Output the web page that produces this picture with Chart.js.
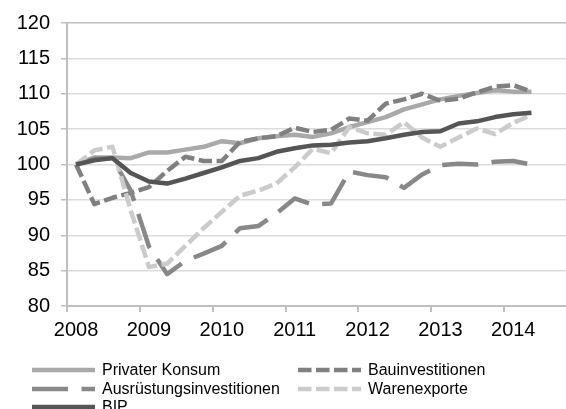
<!DOCTYPE html>
<html>
<head>
<meta charset="utf-8">
<script src="https://cdn.jsdelivr.net/npm/chart.js@4"></script>
<style>
  html, body { margin: 0; padding: 0; background: #fff; overflow: hidden; width: 566px; height: 409px; }
  #wrap { position: absolute; left: 0; top: 0; width: 577px; height: 343px; }
  #legend { position: absolute; left: 0; top: 0; width: 566px; height: 409px; font-family: Arial, "Liberation Sans", sans-serif; font-size: 16px; color: #000; }
  .item { position: absolute; height: 20px; line-height: 20px; white-space: nowrap; }
  .item svg { position: absolute; left: 0; top: 0; }
  .item span { position: absolute; top: 0; left: 70px; }
</style>
</head>
<body>
<div id="wrap"><canvas id="chart"></canvas></div>
<div id="legend"></div>
<script>
// quarterly index values, 2008 Q1 = 100
const quarters = [];
for (let y = 2008; y <= 2014; y++) {
  for (let q = 1; q <= 4; q++) quarters.push(y + ' Q' + q);
}
const yearLabels = ['2008', '2009', '2010', '2011', '2012', '2013', '2014'];

const privaterKonsum = [100, 101.0, 101.0, 100.9, 101.7, 101.7, 102.1, 102.5, 103.3, 103.0, 103.7, 104.0, 104.2, 103.9, 104.4, 105.3, 106.0, 106.7, 107.8, 108.5, 109.2, 109.7, 110.1, 110.5, 110.3, 110.3];
const bauinvestitionen = [100, 94.4, 95.3, 96.0, 96.8, 99.1, 101.1, 100.5, 100.5, 103.2, 103.7, 104.0, 105.2, 104.6, 104.9, 106.5, 106.2, 108.6, 109.2, 110.0, 109.0, 109.3, 110.2, 111.0, 111.2, 110.3];
const ausruestung = [100, 100.8, 100.9, 96.3, 88.4, 84.5, 86.4, 87.4, 88.5, 91.0, 91.3, 93.1, 95.2, 94.3, 94.5, 99.0, 98.5, 98.2, 96.7, 98.6, 99.9, 100.1, 100.0, 100.4, 100.5, 100.0];
const warenexporte = [100, 102.0, 102.5, 93.5, 85.5, 86.0, 88.5, 91.0, 93.3, 95.6, 96.3, 97.3, 99.6, 102.2, 101.6, 105.3, 104.4, 104.2, 106.0, 103.8, 102.5, 103.8, 105.1, 104.3, 105.9, 107.0];
const bip = [100, 100.6, 100.9, 98.8, 97.6, 97.3, 98.0, 98.8, 99.6, 100.5, 100.9, 101.8, 102.3, 102.7, 102.8, 103.1, 103.3, 103.7, 104.2, 104.6, 104.7, 105.8, 106.1, 106.7, 107.1, 107.3];

const seriesNames = ['Privater Konsum', 'Bauinvestitionen', 'Ausrüstungsinvestitionen', 'Warenexporte', 'BIP'];
const seriesData = [privaterKonsum, bauinvestitionen, ausruestung, warenexporte, bip];
const seriesColors = ['#a9a9a9', '#808080', '#888888', '#cbcbcb', '#555555'];
const seriesDash = [[], [13.5, 4.5], [36, 13.5], [13.5, 4.5], []];

const LINE_W = 4.5;

const datasets = seriesNames.map((name, i) => ({
  label: name,
  data: seriesData[i],
  borderColor: seriesColors[i],
  borderWidth: LINE_W,
  borderDash: seriesDash[i],
  borderCapStyle: 'butt',
  borderJoinStyle: 'round',
  pointRadius: 0,
  tension: 0,
  fill: false,
  order: seriesNames.length - i
}));

const axisFont = { family: 'Arial, "Liberation Sans", sans-serif', size: 20 };

const chart = new Chart(document.getElementById('chart'), {
  type: 'line',
  data: { labels: quarters, datasets: datasets },
  options: {
    responsive: true,
    maintainAspectRatio: false,
    animation: false,
    events: [],
    layout: { padding: { top: 16, right: 0, bottom: 0, left: 0 } },
    plugins: {
      legend: { display: false },
      tooltip: { enabled: false },
      title: { display: false }
    },
    scales: {
      x: {
        type: 'category',
        offset: true,
        afterFit: (s) => { s.height = 37; },
        grid: {
          offset: true,
          drawOnChartArea: false,
          drawTicks: true,
          tickLength: 6,
          tickColor: (ctx) => (ctx.index !== undefined && ctx.index % 4 === 0) ? '#bfbfbf' : 'rgba(0,0,0,0)',
          lineWidth: 2
        },
        border: { color: '#bfbfbf', width: 2 },
        ticks: {
          autoSkip: false,
          maxRotation: 0,
          minRotation: 0,
          padding: 6,
          color: '#000',
          font: axisFont,
          callback: (v, i) => i % 4 === 0 ? yearLabels[i / 4] : ''
        }
      },
      y: {
        min: 80,
        max: 120,
        afterFit: (s) => { s.width = 67; },
        grid: {
          color: (ctx) => ctx.tick && ctx.tick.value === 120 ? '#bdbdbd' : '#dcdcdc',
          lineWidth: 1.5,
          tickLength: 6,
          tickColor: '#bfbfbf'
        },
        border: { color: '#bfbfbf', width: 2 },
        ticks: {
          stepSize: 5,
          padding: 11,
          color: '#000',
          font: axisFont
        }
      }
    }
  }
});

// legend in two columns, built from the chart's datasets
const legendPos = [
  { x: 32, y: 360 }, { x: 298, y: 360 },
  { x: 32, y: 379 }, { x: 298, y: 379 },
  { x: 32, y: 397 }
];
const legendEl = document.getElementById('legend');
chart.data.datasets.forEach((ds, i) => {
  const p = legendPos[i];
  const item = document.createElement('div');
  item.className = 'item';
  item.style.left = p.x + 'px';
  item.style.top = p.y + 'px';
  const dash = ds.borderDash.length ? ' stroke-dasharray="' + ds.borderDash.join(' ') + '"' : '';
  item.innerHTML =
    '<svg width="64" height="20"><line x1="0" y1="10" x2="63" y2="10" stroke="' + ds.borderColor +
    '" stroke-width="' + LINE_W + '"' + dash + '/></svg>' +
    '<span>' + ds.label + '</span>';
  legendEl.appendChild(item);
});
</script>
</body>
</html>
